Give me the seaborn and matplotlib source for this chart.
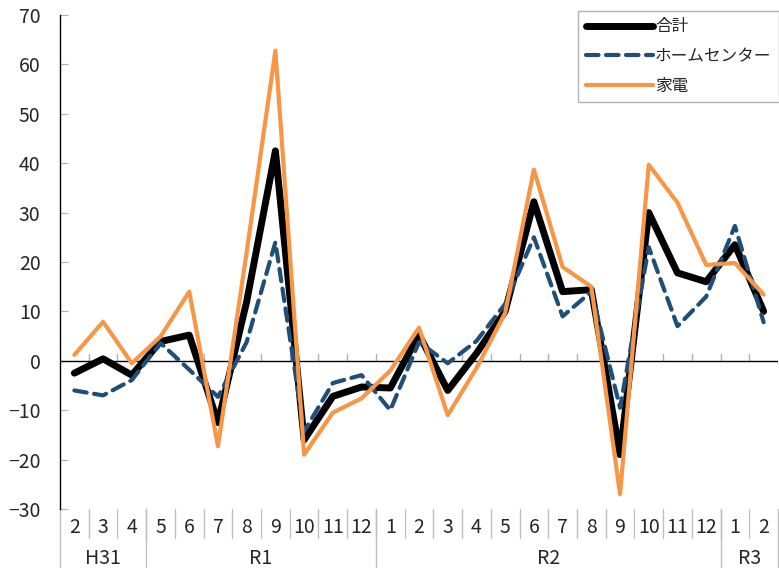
import seaborn as sns
import matplotlib.pyplot as plt
import matplotlib.transforms as mtransforms
import numpy as np

# 前年同月比 (%)
groups = ['H31', 'R1', 'R2', 'R3']
group_sizes = [3, 8, 12, 2]
months = ['2', '3', '4',
          '5', '6', '7', '8', '9', '10', '11', '12',
          '1', '2', '3', '4', '5', '6', '7', '8', '9', '10', '11', '12',
          '1', '2']

total = [-2.5, 0.4, -2.9, 3.9, 5.2, -12.5, 12.0, 42.5, -16.0, -7.2, -5.3,
         -5.5, 5.3, -6.0, 1.5, 10.0, 32.2, 14.0, 14.4, -19.0, 30.0, 17.8, 16.0,
         23.5, 10.0]
home = [-6.0, -7.0, -3.9, 3.6, -1.8, -7.3, 3.8, 24.0, -14.3, -4.5, -2.9,
        -10.0, 3.8, -0.5, 4.0, 11.5, 25.0, 9.0, 14.0, -9.5, 23.0, 7.0, 13.0,
        27.3, 7.8]
kaden = [1.2, 7.9, -0.5, 4.9, 14.0, -17.3, 22.0, 62.8, -19.0, -10.5, -7.6,
         -2.0, 6.7, -11.0, -1.5, 9.7, 38.7, 19.0, 15.0, -27.0, 39.7, 32.0, 19.4,
         19.8, 13.4]

sns.set_style("white")
plt.rcParams['font.family'] = ['Noto Sans CJK JP', 'DejaVu Sans']

fig = plt.figure(figsize=(7.79, 5.68), dpi=100)
ax = fig.add_axes([60 / 779, 1 - 509 / 568, 718 / 779, 494 / 568])

x = np.arange(len(months))
sns.lineplot(x=x, y=total, ax=ax, color='black', linewidth=5, label='合計', zorder=3)
sns.lineplot(x=x, y=home, ax=ax, color='#1f4e79', linewidth=3, linestyle=(0, (3, 1.8)),
             dash_capstyle='round', label='ホームセンター', zorder=4)
sns.lineplot(x=x, y=kaden, ax=ax, color='#f79646', linewidth=3, label='家電', zorder=5)

ax.set_xlim(-0.5, len(months) - 0.5)
ax.set_ylim(-30, 70)
ax.set_yticks(range(-30, 71, 10))
ax.set_yticklabels([str(v).replace('-', '\u2212') for v in range(-30, 71, 10)], fontsize=14)
ax.tick_params(axis='y', direction='in', length=6, color='#b0b0b0', pad=14, left=True)
ax.set_xticks([])

for s in ['top', 'right', 'bottom']:
    ax.spines[s].set_visible(False)
ax.spines['left'].set_color('black')
ax.spines['left'].set_linewidth(1)

# zero line with small ticks at category boundaries
ax.axhline(0, color='black', linewidth=1, zorder=2)
for b in np.arange(0.5, len(months) - 0.5):
    ax.plot([b, b], [0, 1.3], color='#b0b0b0', linewidth=1, zorder=1)

# category labels below the plot
trans = mtransforms.blended_transform_factory(ax.transData, ax.transAxes)
for i, m in enumerate(months):
    ax.text(i, -0.037, m, transform=trans, ha='center', va='center', fontsize=14)
for b in np.arange(0.5, len(months) - 0.5):
    ax.plot([b, b], [0, -0.059], transform=trans, color='#c0c0c0', linewidth=1, clip_on=False)

edges = np.concatenate([[0], np.cumsum(group_sizes)]) - 0.5
for g, lo, hi in zip(groups, edges[:-1], edges[1:]):
    ax.text((lo + hi) / 2, -0.1, g, transform=trans, ha='center', va='center', fontsize=14)
for e in edges:
    ax.plot([e, e], [0, -0.125], transform=trans, color='#c0c0c0', linewidth=1, clip_on=False)

leg = ax.legend(loc='upper right', bbox_to_anchor=(1.0, 1 - 11 / 568), bbox_transform=fig.transFigure,
                borderaxespad=0, fontsize=12, handlelength=4, handletextpad=0.15,
                frameon=True, fancybox=False, edgecolor='#a0a0a0', labelspacing=0.75,
                borderpad=0.45)
leg.get_frame().set_linewidth(1)

fig.savefig('out.png', dpi=100)
